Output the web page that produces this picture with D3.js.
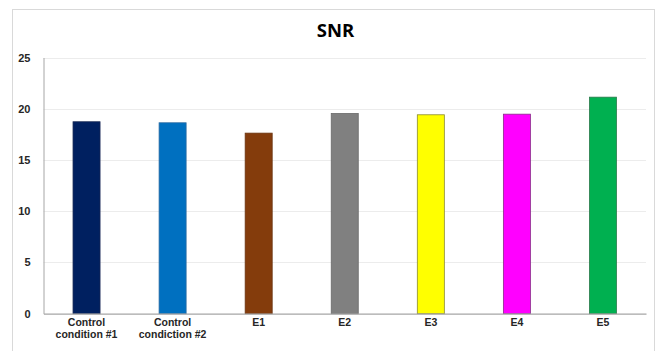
<!DOCTYPE html>
<html>
<head>
<meta charset="utf-8">
<script src="https://cdn.jsdelivr.net/npm/d3@7"></script>
<style>
  html, body { margin: 0; padding: 0; background: #fff; }
  svg { display: block; font-family: "Liberation Sans", Arial, sans-serif; }
</style>
</head>
<body>
<svg id="chart" width="661" height="351"></svg>
<script>
// SNR per condition
const categories = [["Control", "condition #1"], ["Control", "condiction #2"], ["E1"], ["E2"], ["E3"], ["E4"], ["E5"]];
const snrValues = [18.73, 18.63, 17.62, 19.54, 19.41, 19.47, 21.13];
const barColors = ["#002060", "#0070C0", "#843C0C", "#808080", "#FFFF00", "#FF00FF", "#00B050"];
const barStrokes = ["#1a2a55", "#2a6aa0", "#6a3410", "#6a6a6a", "#8a8a30", "#8a2a8a", "#2a7a4a"];
const yTicks = [0, 5, 10, 15, 20, 25];

const svg = d3.select("#chart");
const margin = { left: 43.5, right: 15 };
const W = 661;

// chart frame
svg.append("rect")
  .attr("x", 12.5).attr("y", 9.5)
  .attr("width", 642).attr("height", 350)
  .attr("fill", "#fff").attr("stroke", "#d9d9d9").attr("stroke-width", 1);

const x = d3.scaleBand()
  .domain(d3.range(categories.length))
  .range([margin.left, W - margin.right])
  .paddingInner(0.686).paddingOuter(0.343);

const y = d3.scaleLinear().domain([0, 25]).range([313.7, 57.5]);

// gridlines
svg.append("g")
  .selectAll("line")
  .data(yTicks.filter(d => d > 0))
  .join("line")
  .attr("x1", margin.left).attr("x2", W - margin.right)
  .attr("y1", d => Math.round(y(d)) + 0.5).attr("y2", d => Math.round(y(d)) + 0.5)
  .attr("stroke", "#ececec").attr("stroke-width", 1);

// y axis
const yAxis = svg.append("g")
  .attr("transform", `translate(${margin.left},0)`)
  .call(d3.axisLeft(y).tickValues(yTicks).tickSize(0).tickPadding(13));
yAxis.select(".domain").attr("stroke", "#a6a6a6");
yAxis.selectAll("text")
  .attr("font-size", 11).attr("font-weight", "bold").attr("fill", "#262626")
  .attr("font-family", "Liberation Sans, Arial, sans-serif");

// bars
svg.append("g")
  .selectAll("rect")
  .data(snrValues)
  .join("rect")
  .attr("x", (d, i) => x(i))
  .attr("width", x.bandwidth())
  .attr("y", d => y(d))
  .attr("height", d => y(0) - y(d))
  .attr("fill", (d, i) => barColors[i])
  .attr("stroke", (d, i) => barStrokes[i])
  .attr("stroke-width", 0.8);

// x axis
const xAxis = svg.append("g")
  .attr("transform", `translate(0,${y(0)})`)
  .call(d3.axisBottom(x).tickSize(0).tickFormat(""));
xAxis.select(".domain").attr("stroke", "#a6a6a6").attr("stroke-width", 1.2);

// category labels
const labels = svg.append("g");
categories.forEach((lines, i) => {
  const cx = x(i) + x.bandwidth() / 2;
  const t = labels.append("text")
    .attr("x", cx)
    .attr("y", 325.5)
    .attr("text-anchor", "middle")
    .attr("font-size", 10.5).attr("font-weight", "bold").attr("fill", "#262626");
  lines.forEach((s, k) => {
    t.append("tspan").attr("x", cx).attr("dy", k === 0 ? 0 : 12).text(s);
  });
});

// title
svg.append("text")
  .attr("x", 335.5).attr("y", 37)
  .attr("text-anchor", "middle")
  .attr("font-size", 18.5).attr("font-weight", "bold").attr("fill", "#000")
  .attr("font-family", "Open Sans, Liberation Sans, sans-serif")
  .text("SNR");
</script>
</body>
</html>
